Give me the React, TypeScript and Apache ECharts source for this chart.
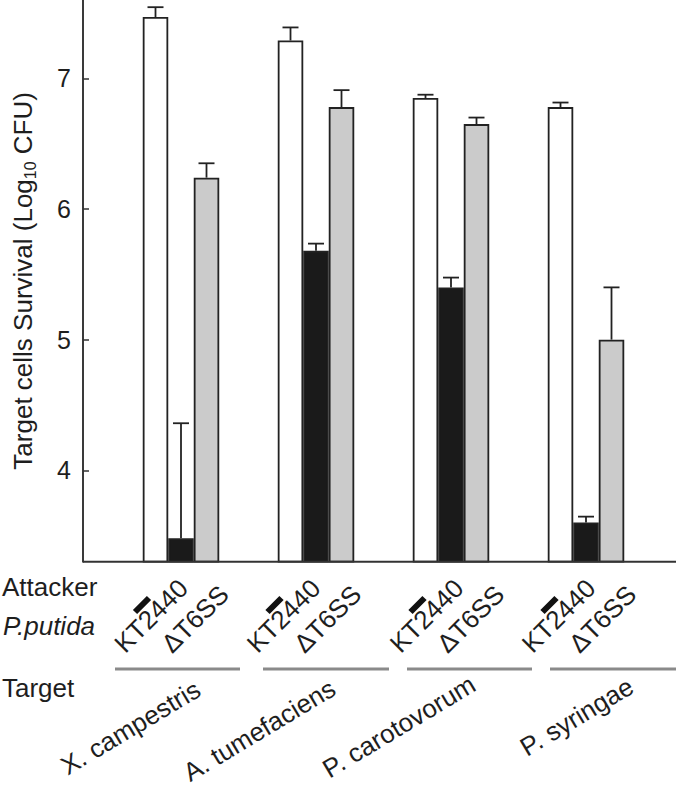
import React, { useEffect, useRef } from "react";
import * as echarts from "echarts";

const categories = ["X. campestris", "A. tumefaciens", "P. carotovorum", "P. syringae"];
const seriesNames = ["No attacker", "KT2440", "ΔT6SS"];
const noAttacker = [7.47, 7.29, 6.85, 6.78];
const kt2440 = [3.48, 5.68, 5.4, 3.6];
const deltaT6SS = [6.24, 6.78, 6.65, 5.0];
const errNoAttacker = [0.075, 0.1, 0.025, 0.035];
const errKT2440 = [0.88, 0.055, 0.075, 0.045];
const errDeltaT6SS = [0.11, 0.13, 0.05, 0.4];
const yTicks = [4, 5, 6, 7];

const FONT = "Liberation Sans, Arial, Helvetica, sans-serif";
const BAR_W = 25.5;
const CAP = 8;
const INK = "#1e1e1e";

// layout of the annotation block under the axis (pixels)
const clusterShift = [0, 132.5, 275.5, 407.5];
const underlines = [
  [115, 240],
  [263, 389],
  [407, 532],
  [550, 676],
];
const speciesAnchor = [
  [198, 687],
  [333, 686],
  [473, 682],
  [631, 684],
];

export default function App() {
  const ref = useRef<HTMLDivElement>(null);

  useEffect(() => {
    if (!ref.current) return;
    const chart = echarts.init(ref.current, null, { renderer: "svg" });

    const values = [noAttacker, kt2440, deltaT6SS];
    const errs = [errNoAttacker, errKT2440, errDeltaT6SS];
    const fills = ["#ffffff", "#1a1a1a", "#cbcbcb"];

    const errData: number[][] = [];
    values.forEach((arr, k) =>
      arr.forEach((v, i) => errData.push([i, v, errs[k][i], k]))
    );

    const labelRot = Math.PI / 4;
    const speciesRot = (31 * Math.PI) / 180;

    const graphic: any[] = [
      {
        type: "line",
        shape: { x1: 83, y1: 561.7, x2: 676, y2: 561.7 },
        style: { stroke: "#333", lineWidth: 2 },
        z: 10,
      },
      {
        type: "text",
        x: 2,
        y: 587,
        style: { text: "Attacker", font: `26px ${FONT}`, fill: INK, verticalAlign: "middle" },
      },
      {
        type: "text",
        x: 3,
        y: 626,
        style: { text: "P.putida", font: `italic 26px ${FONT}`, fill: INK, verticalAlign: "middle" },
      },
      {
        type: "text",
        x: 2,
        y: 688,
        style: { text: "Target", font: `26px ${FONT}`, fill: INK, verticalAlign: "middle" },
      },
    ];

    categories.forEach((name, g) => {
      const s = clusterShift[g];
      graphic.push({
        type: "line",
        shape: { x1: 135 + s, y1: 612, x2: 149 + s, y2: 598 },
        style: { stroke: "#111", lineWidth: 6, lineCap: "butt" },
      });
      graphic.push({
        type: "text",
        x: 119 + s,
        y: 648,
        rotation: labelRot,
        style: { text: seriesNames[1], font: `26px ${FONT}`, fill: INK, align: "left", verticalAlign: "middle" },
      });
      graphic.push({
        type: "text",
        x: 166 + s,
        y: 648,
        rotation: labelRot,
        style: { text: seriesNames[2], font: `26px ${FONT}`, fill: INK, align: "left", verticalAlign: "middle" },
      });
      graphic.push({
        type: "line",
        shape: { x1: underlines[g][0], y1: 669, x2: underlines[g][1], y2: 669 },
        style: { stroke: "#8a8a8a", lineWidth: 3 },
      });
      graphic.push({
        type: "text",
        x: speciesAnchor[g][0],
        y: speciesAnchor[g][1],
        rotation: speciesRot,
        style: { text: name, font: `26px ${FONT}`, fill: INK, align: "right", verticalAlign: "middle" },
      });
    });

    chart.setOption({
      animation: false,
      backgroundColor: "#ffffff",
      grid: { left: 113.5, right: 22.5, top: 0, bottom: 233.3 },
      xAxis: {
        type: "category",
        data: categories,
        axisLine: { show: false },
        axisTick: { show: false },
        axisLabel: { show: false },
      },
      yAxis: {
        type: "value",
        min: 3.3,
        max: 7.6,
        offset: 30.5,
        splitLine: { show: false },
        axisLine: { show: true, lineStyle: { color: "#3a3a3a", width: 2 } },
        axisTick: {
          show: true,
          inside: true,
          length: 6,
          customValues: yTicks,
          lineStyle: { color: "#333", width: 1.5 },
        },
        axisLabel: {
          customValues: yTicks,
          margin: 12,
          fontSize: 25,
          fontFamily: FONT,
          color: INK,
        },
        name: "Target cells Survival (Log{sub|10} CFU)",
        nameLocation: "middle",
        nameGap: 45,
        nameTextStyle: {
          fontSize: 26,
          fontFamily: FONT,
          color: INK,
          rich: {
            sub: { fontSize: 16, fontFamily: FONT, color: INK, verticalAlign: "bottom", lineHeight: 30 },
          },
        },
      },
      series: [
        ...values.map((arr, k) => ({
          type: "bar",
          name: seriesNames[k],
          data: arr,
          barWidth: BAR_W,
          barGap: "0%",
          itemStyle: { color: fills[k], borderColor: "#222", borderWidth: 1.8 },
        })),
        {
          type: "custom",
          name: "error",
          data: errData,
          encode: { x: 0, y: 1 },
          z: 5,
          renderItem: (params: any, api: any) => {
            const i = api.value(0);
            const v = api.value(1);
            const e = api.value(2);
            const k = api.value(3);
            const base = api.coord([i, v]);
            const top = api.coord([i, v + e]);
            const x = base[0] + (k - 1) * BAR_W;
            return {
              type: "group",
              children: [
                {
                  type: "line",
                  shape: { x1: x, y1: base[1], x2: x, y2: top[1] },
                  style: { stroke: "#222", lineWidth: 1.8 },
                },
                {
                  type: "line",
                  shape: { x1: x - CAP, y1: top[1], x2: x + CAP, y2: top[1] },
                  style: { stroke: "#222", lineWidth: 1.8 },
                },
              ],
            };
          },
        },
      ],
      graphic,
    });

    return () => chart.dispose();
  }, []);

  return (
    <div
      ref={ref}
      style={{ position: "absolute", left: 0, top: 0, width: 676, height: 795, background: "#fff" }}
    />
  );
}
